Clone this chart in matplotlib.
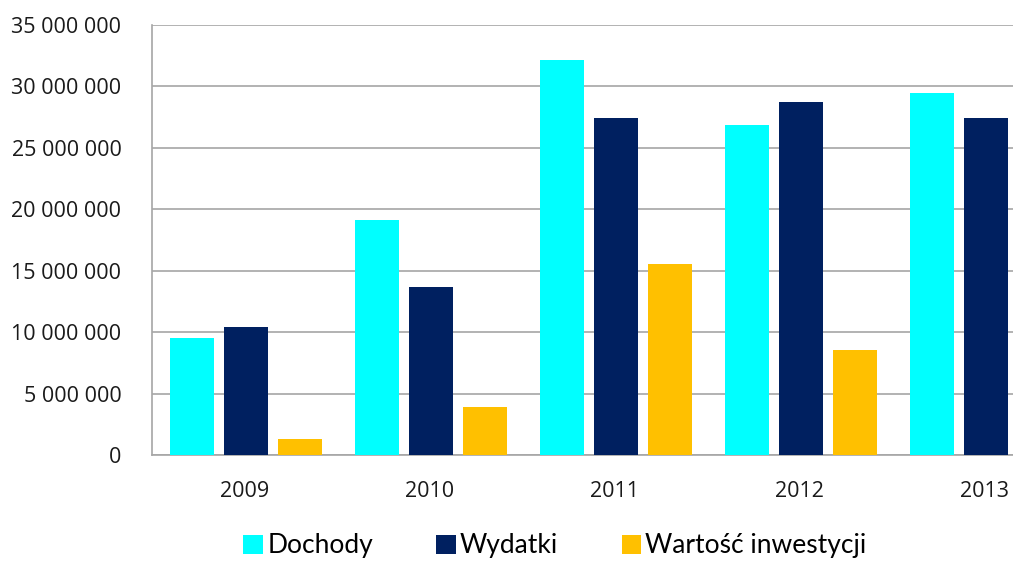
import numpy as np
import matplotlib
matplotlib.use("Agg")
import matplotlib.pyplot as plt
from matplotlib.ticker import FuncFormatter, MultipleLocator

years = ["2009", "2010", "2011", "2012", "2013"]
dochody = [9_550_000, 19_100_000, 32_150_000, 26_850_000, 29_450_000]
wydatki = [10_450_000, 13_700_000, 27_450_000, 28_700_000, 27_450_000]
inwestycje = [1_300_000, 3_900_000, 15_550_000, 8_550_000, 0]

series = [
    ("Dochody", dochody, "#00FFFF"),
    ("Wydatki", wydatki, "#002060"),
    ("Wartość inwestycji", inwestycje, "#FFC000"),
]

fig = plt.figure(figsize=(10.13, 5.61), dpi=100)
# axes deliberately runs past the right edge (the source image is cropped)
ax = fig.add_axes([152 / 1013, 1 - 455 / 561, 925 / 1013, 430 / 561])

x = np.arange(len(years))
width = 0.238
step = 0.292
for i, (name, vals, color) in enumerate(series):
    ax.bar(x + (i - 1) * step + 0.01, vals, width, color=color, label=name, zorder=3)

ax.set_xlim(-0.5, len(years) - 0.5)
ax.set_ylim(0, 35_000_000)
ax.yaxis.set_major_locator(MultipleLocator(5_000_000))
ax.yaxis.set_major_formatter(FuncFormatter(lambda v, p: f"{int(v):,}".replace(",", " ")))
ax.set_xticks(x)
ax.set_xticklabels(years)

ax.grid(True, axis="y", color="#a6a6a6", linewidth=1.2, zorder=0)
for side in ["top", "right"]:
    ax.spines[side].set_visible(False)
for side in ["left", "bottom"]:
    ax.spines[side].set_color("#a6a6a6")
    ax.spines[side].set_linewidth(1.2)
ax.tick_params(axis="both", length=0, labelsize=15.5, colors="#1a1a1a")
ax.tick_params(axis="y", pad=22)
ax.tick_params(axis="x", pad=19)
for lbl in ax.get_xticklabels() + ax.get_yticklabels():
    lbl.set_family("Open Sans")

fig.legend(loc="center", bbox_to_anchor=(555 / 1013, 1 - 546 / 561), ncol=3,
           frameon=False, prop={"family": "Lato", "size": 19},
           handlelength=0.75, handleheight=0.75, handletextpad=0.15, columnspacing=2.4)

fig.savefig("out.png", dpi=100)
